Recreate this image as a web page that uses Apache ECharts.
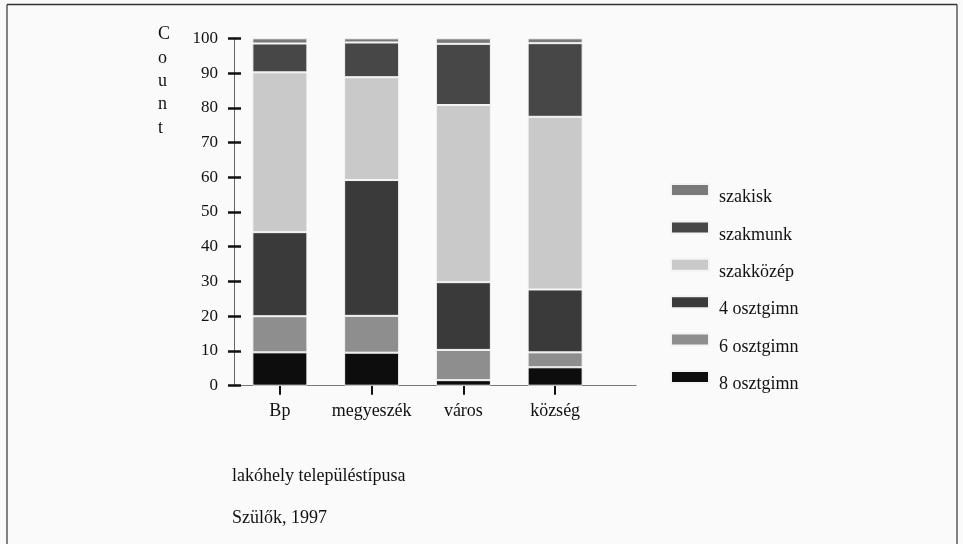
<!DOCTYPE html>
<html>
<head>
<meta charset="utf-8">
<script src="https://cdn.jsdelivr.net/npm/echarts@6/dist/echarts.min.js"></script>
<style>
html,body{margin:0;padding:0;background:#fafafa;}
#chart{width:963px;height:544px;}
</style>
</head>
<body>
<div id="chart"></div>
<script>
const categories = ['Bp', 'megyeszék', 'város', 'község'];
const osztgimn8 = [9.6, 9.5, 1.6, 5.3];
const osztgimn6 = [10.4, 10.6, 8.7, 4.3];
const osztgimn4 = [24.2, 39.1, 19.5, 18.1];
const szakkozep = [46.0, 29.6, 51.0, 49.7];
const szakmunk = [8.3, 10.0, 17.6, 21.2];
const szakisk = [1.5, 1.2, 1.6, 1.4];
const yTicks = [0, 10, 20, 30, 40, 50, 60, 70, 80, 90, 100];

const serif = '"Liberation Serif", "DejaVu Serif", serif';
const seriesDefs = [
  {name: '8 osztgimn', data: osztgimn8, color: '#0d0d0d'},
  {name: '6 osztgimn', data: osztgimn6, color: '#8e8e8e'},
  {name: '4 osztgimn', data: osztgimn4, color: '#3a3a3a'},
  {name: 'szakközép', data: szakkozep, color: '#c9c9c9'},
  {name: 'szakmunk', data: szakmunk, color: '#474747'},
  {name: 'szakisk', data: szakisk, color: '#7a7a7a'}
];

const chart = echarts.init(document.getElementById('chart'), null, {renderer: 'canvas'});
const option = {
  backgroundColor: '#fafafa',
  animation: false,
  grid: [
    {left: 234, right: 362, top: 38.3, bottom: 158.3},
    {left: 230, right: 327, top: 38.3, bottom: 158.3}
  ],
  legend: {
    orient: 'vertical',
    left: 670,
    top: 183,
    padding: 0,
    itemWidth: 38,
    itemHeight: 27,
    itemGap: 8.4,
    icon: 'path://M0,0 H38 V12 H0 Z M0,27 L0.01,27',
    data: ['szakisk', 'szakmunk', 'szakközép', '4 osztgimn', '6 osztgimn', '8 osztgimn'],
    textStyle: {fontFamily: serif, fontSize: 18, color: '#111', padding: [0, 0, 0, 5]}
  },
  xAxis: [
    {
      type: 'category', gridIndex: 0, data: categories,
      axisLine: {show: false},
      axisTick: {show: true, alignWithLabel: true, length: 9, lineStyle: {color: '#111', width: 2}},
      axisLabel: {interval: 0, margin: 17, fontFamily: serif, fontSize: 18, color: '#111'}
    },
    {
      type: 'value', gridIndex: 1, min: 0, max: 1,
      axisLine: {show: true, lineStyle: {color: '#777', width: 1}},
      axisTick: {show: false}, axisLabel: {show: false}, splitLine: {show: false}
    }
  ],
  yAxis: [
    {
      type: 'value', gridIndex: 0, min: yTicks[0], max: yTicks[yTicks.length - 1], interval: 10,
      position: 'left',
      axisLine: {show: true, lineStyle: {color: '#666', width: 1}},
      axisTick: {show: true, length: 6, lineStyle: {color: '#111', width: 2.5}},
      axisLabel: {margin: 16, fontFamily: serif, fontSize: 17, color: '#111', padding: [0, 0, 7, 0]},
      splitLine: {show: false}
    },
    {
      type: 'value', gridIndex: 0, min: yTicks[0], max: yTicks[yTicks.length - 1], interval: 10,
      position: 'left', offset: 0,
      axisLine: {show: false},
      axisTick: {show: true, inside: true, length: 7, lineStyle: {color: '#111', width: 2.5}},
      axisLabel: {show: false}, splitLine: {show: false}
    },
    {
      type: 'value', gridIndex: 1, min: 0, max: 100, show: false
    }
  ],
  series: seriesDefs.map(s => ({
    name: s.name, type: 'bar', stack: 'total', xAxisIndex: 0, yAxisIndex: 0,
    barWidth: 55, data: s.data,
    itemStyle: {color: s.color, borderColor: '#f4f4f4', borderWidth: 1}
  })),
  graphic: [
    {type: 'line', shape: {x1: 7, y1: 4.5, x2: 957, y2: 4.5}, style: {stroke: '#333', lineWidth: 1.5}},
    {type: 'line', shape: {x1: 7, y1: 4.5, x2: 7, y2: 544}, style: {stroke: '#333', lineWidth: 1.2}},
    {type: 'line', shape: {x1: 957, y1: 4.5, x2: 957, y2: 544}, style: {stroke: '#333', lineWidth: 1.2}},
    {type: 'text', left: 158, top: 23, style: {text: 'C\no\nu\nn\nt', font: '18px ' + serif, fill: '#111', lineHeight: 23.3, align: 'center'}},
    {type: 'text', left: 232, top: 467, style: {text: 'lakóhely településtípusa', font: '18px ' + serif, fill: '#111'}},
    {type: 'text', left: 232, top: 509, style: {text: 'Szülők, 1997', font: '18px ' + serif, fill: '#111'}}
  ]
};
chart.setOption(option);
</script>
</body>
</html>
